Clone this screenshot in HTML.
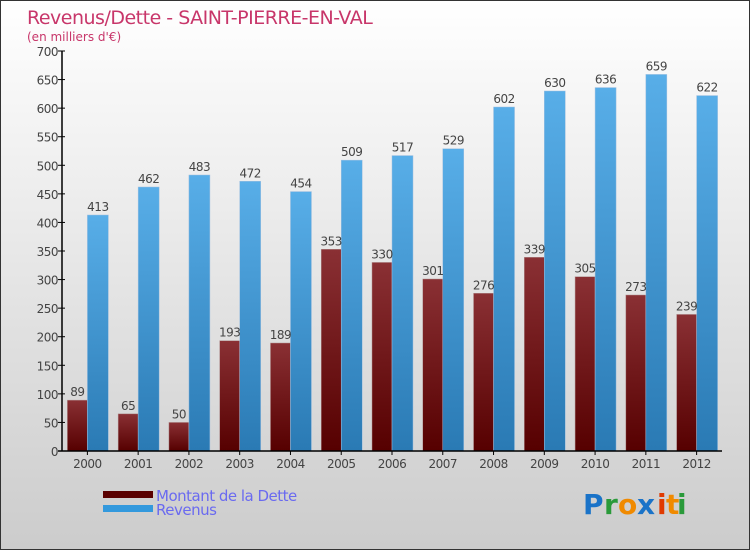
<!DOCTYPE html>
<html><head><meta charset="utf-8"><style>
body{margin:0;}
#wrap{width:750px;height:550px;position:relative;box-sizing:border-box;border:1px solid #333;background:linear-gradient(#ffffff,#cccccc);font-family:"DejaVu Sans","Liberation Sans",sans-serif;overflow:hidden}
svg text{font-family:"DejaVu Sans","Liberation Sans",sans-serif}
</style></head><body>
<div id="wrap">
<svg id="chart" width="750" height="550">
<defs>
<linearGradient id="gd" x1="0" y1="0" x2="0" y2="1"><stop offset="0" stop-color="#8a3034"/><stop offset="1" stop-color="#560000"/></linearGradient>
<linearGradient id="gr" x1="0" y1="0" x2="0" y2="1"><stop offset="0" stop-color="#58aee8"/><stop offset="1" stop-color="#2a7ab4"/></linearGradient>
</defs>
<text x="26" y="23" font-size="19" fill="#c8366a" letter-spacing="-0.5">Revenus/Dette - SAINT-PIERRE-EN-VAL</text>
<text x="26" y="40" font-size="12" fill="#c8366a">(en milliers d'€)</text>
<g id="marks"></g>
<g>
<rect x="102" y="490" width="50" height="7" fill="#5a0000"/>
<text x="155" y="500" font-size="15" fill="#6a6af0" letter-spacing="-0.5">Montant de la Dette</text>
<rect x="102" y="504" width="50" height="7" fill="#3399dd"/>
<text x="155" y="514" font-size="15" fill="#6a6af0" letter-spacing="-0.5">Revenus</text>
</g>
<g font-size="28" font-weight="bold">
<text x="582" y="513" fill="#1a73c8">P</text><text x="603" y="513" fill="#2a9a3a">r</text><text x="617" y="513" fill="#f08a00">o</text><text x="636" y="513" fill="#1a73c8">x</text><text x="656" y="513" fill="#e03a00">i</text><text x="665" y="513" fill="#f08a00">t</text><text x="676" y="513" fill="#2a9a3a">i</text>
</g>
</svg>
</div>
<script>
const categories=["2000","2001","2002","2003","2004","2005","2006","2007","2008","2009","2010","2011","2012"];
const dette=[89,65,50,193,189,353,330,301,276,339,305,273,239];
const revenus=[413,462,483,472,454,509,517,529,602,630,636,659,622];
const yTicks=[0,50,100,150,200,250,300,350,400,450,500,550,600,650,700];
const X0=61,X1=721,Y0=450,Y1=50,YMAX=700;
const bw=(X1-X0)/categories.length;
const y=v=>Y0-(v/YMAX)*(Y0-Y1);
const xc=i=>X0+bw*(i+0.5);
const NS="http://www.w3.org/2000/svg";
const g=document.getElementById('marks');
function mk(t,a){const e=document.createElementNS(NS,t);for(const k in a)e.setAttribute(k,a[k]);g.appendChild(e);return e;}
categories.forEach((c,i)=>{
  const cx=xc(i);
  const d=mk('rect',{x:cx-20,y:y(dette[i]),width:20,height:Y0-y(dette[i]),fill:'url(#gd)',stroke:'#b09090','stroke-width':0.5});
  
  
  const r=mk('rect',{x:cx,y:y(revenus[i]),width:21,height:Y0-y(revenus[i]),fill:'url(#gr)',stroke:'#a0c0e0','stroke-width':0.5});
  
  
  const t1=mk('text',{x:cx-10,y:y(dette[i])-4,'font-size':12,fill:'#444','text-anchor':'middle','letter-spacing':'-0.5'});
  t1.textContent=dette[i];
  
  
  const t2=mk('text',{x:cx+10.5,y:y(revenus[i])-4,'font-size':12,fill:'#444','text-anchor':'middle','letter-spacing':'-0.5'});
  t2.textContent=revenus[i];
  
  
  const tk=mk('line',{x1:cx,x2:cx,y1:Y0,y2:Y0+4,stroke:'#000'});
  
  
  const tl=mk('text',{x:cx,y:Y0+17,'font-size':12,fill:'#444','text-anchor':'middle','letter-spacing':'-0.5'});
  tl.textContent=c;
  
  
});
yTicks.forEach(v=>{
  const tk=mk('line',{x1:X0-4,x2:X0+3,y1:y(v),y2:y(v),stroke:'#000'});
  
  
  const tl=mk('text',{x:X0-4,y:y(v)+5,'font-size':12,fill:'#444','text-anchor':'end','letter-spacing':'-0.5'});
  tl.textContent=v;
  
  
});
const ya=mk('line',{x1:X0,x2:X0,y1:Y1,y2:Y0,stroke:'#000','stroke-width':1.5});


const xa=mk('line',{x1:X0-4,x2:X1,y1:Y0,y2:Y0,stroke:'#000','stroke-width':1.5});


</script>
</body></html>
